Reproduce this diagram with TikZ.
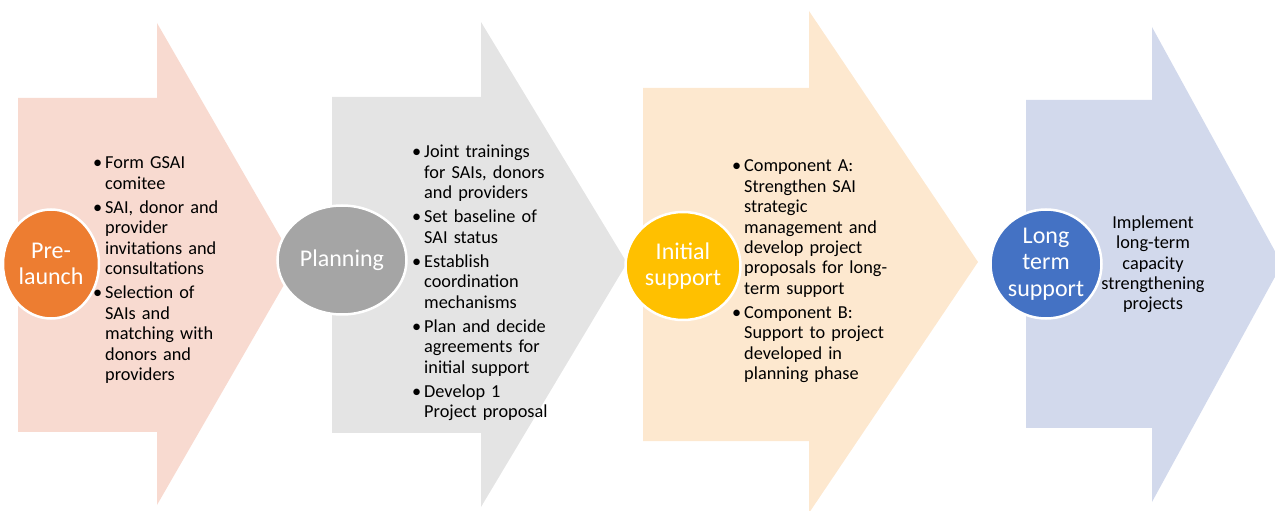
\documentclass[tikz,border=0pt]{standalone}
\usepackage{fontspec}
\setmainfont{Carlito}
\usetikzlibrary{shapes.geometric}

\definecolor{pinkfill}{HTML}{F8DAD0}
\definecolor{grayfill}{HTML}{E4E4E4}
\definecolor{peachfill}{HTML}{FDE8CF}
\definecolor{bluefill}{HTML}{D2D9EC}
\definecolor{orangedot}{HTML}{ED7D31}
\definecolor{graydot}{HTML}{A5A5A5}
\definecolor{golddot}{HTML}{FFC000}
\definecolor{bluedot}{HTML}{4472C4}

% one bullet point with hanging indent
\newcommand\pitem[1]{\setlength\parskip{3.8bp}\hangindent=12bp\hangafter=1\noindent\makebox[12bp][l]{\textbullet}#1\par}

\begin{document}
\begin{tikzpicture}[x=1bp,y=-1bp,
  phase/.style={ellipse,draw=white,line width=2.5bp,inner sep=0pt,text=white,
    align=center,font=\fontsize{24bp}{26.5bp}\selectfont},
  bullets/.style={text width=180bp,inner sep=0pt,anchor=base west,
    font=\fontsize{18.3bp}{20.4bp}\selectfont,execute at begin node=\raggedright},
  plain/.style={inner sep=0pt,anchor=base,align=center,
    font=\fontsize{18.3bp}{20.4bp}\selectfont}]
\useasboundingbox (0,0) rectangle (1275,511);
\clip (0,0) rectangle (1275,511);

% chevron arrows
\fill[pinkfill]  (18,98)   -- (157,98)  -- (157,23) -- (296,264) -- (157,505) -- (157,432) -- (18,432) -- cycle;
\fill[grayfill]  (332,97)  -- (481,97)  -- (481,22) -- (627,263) -- (481,507) -- (481,433) -- (332,433) -- cycle;
\fill[peachfill] (643,88)  -- (809,88)  -- (809,11) -- (978,262) -- (809,513) -- (809,441) -- (643,441) -- cycle;
\fill[bluefill]  (1026,100) -- (1152,100) -- (1152,27) -- (1282,264) -- (1152,502) -- (1152,428) -- (1026,428) -- cycle;

% step descriptions
\node[bullets] (t1) at (93,169) {%
  \pitem{Form GSAI\newline comitee}%
  \pitem{SAI, donor and\newline provider\newline invitations and\newline consultations}%
  \pitem{Selection of\newline SAIs and\newline matching with\newline donors and\newline providers}};
\node[bullets] (t2) at (412,158) {%
  \pitem{Joint trainings\newline for SAIs, donors\newline and providers}%
  \pitem{Set baseline of\newline SAI status}%
  \pitem{Establish\newline coordination\newline mechanisms}%
  \pitem{Plan and decide\newline agreements for\newline initial support}%
  \pitem{Develop 1\newline Project proposal}};
\node[bullets] (t3) at (732,172) {%
  \pitem{Component A:\newline Strengthen SAI\newline strategic\newline management and\newline develop project\newline proposals for long-\newline term support}%
  \pitem{Component B:\newline Support to project\newline developed in\newline planning phase}};
\node[plain] (t4) at (1153,310) {Implement\\long-term\\capacity\\strengthening\\projects};

% phase markers
\node[phase,fill=orangedot,minimum width=96bp,minimum height=109bp] (p1) at (51,264) {Pre-\\launch};
\node[phase,fill=graydot,minimum width=129bp,minimum height=109bp] (p2) at (342,260) {Planning};
\node[phase,fill=golddot,minimum width=115bp,minimum height=108bp] (p3) at (683,266) {Initial\\support};
\node[phase,fill=bluedot,minimum width=111bp,minimum height=109bp] (p4) at (1046,264) {Long\\term\\support};
\end{tikzpicture}
\end{document}
